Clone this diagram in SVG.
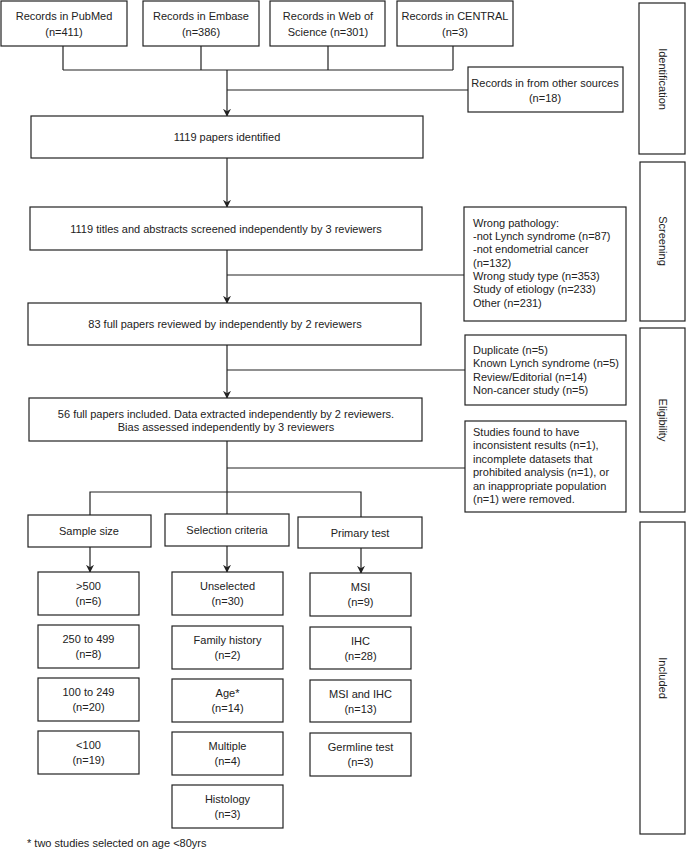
<svg xmlns="http://www.w3.org/2000/svg" width="686" height="850" viewBox="0 0 686 850">
<style>
.b{fill:#fff;stroke:#222;stroke-width:1.2}
.t{font-family:"Liberation Sans",Arial,sans-serif;font-size:11px;fill:#222}
.c{text-anchor:middle}
.l{fill:none;stroke:#222;stroke-width:1.2}
</style>
<defs>
<marker id="ah" viewBox="0 0 10 10" refX="9" refY="5" markerWidth="8" markerHeight="8" markerUnits="userSpaceOnUse" orient="auto">
<path d="M0,0 L10,5 L0,10 L3,5 z" fill="#222"/>
</marker>
</defs>
<rect width="686" height="850" fill="#fff"/>
<g id="connectors">
<path class="l" d="M63,46 V70 M201,46 V70 M328,46 V70 M453,46 V70 M63,70 H453"/>
<path class="l" d="M227,90 H468"/>
<path class="l" d="M227,70 V116" marker-end="url(#ah)"/>
<path class="l" d="M227,158 V207" marker-end="url(#ah)"/>
<path class="l" d="M227,250 V303" marker-end="url(#ah)"/>
<path class="l" d="M227,275 H464"/>
<path class="l" d="M227,345 V398" marker-end="url(#ah)"/>
<path class="l" d="M227,370 H465"/>
<path class="l" d="M227,441 V514"/>
<path class="l" d="M227,468 H465"/>
<path class="l" d="M90,515 V492 H361 V517"/>
<path class="l" d="M90,547 V572" marker-end="url(#ah)"/>
<path class="l" d="M227,546 V572" marker-end="url(#ah)"/>
<path class="l" d="M361,548 V573" marker-end="url(#ah)"/>
</g>
<g id="pubmed"><rect class="b" x="1" y="1" width="126" height="45"/><text class="t c" x="64" y="20">Records in PubMed</text><text class="t c" x="64" y="36">(n=411)</text></g>
<g id="embase"><rect class="b" x="143" y="1" width="116" height="45"/><text class="t c" x="201" y="20">Records in Embase</text><text class="t c" x="201" y="36">(n=386)</text></g>
<g id="wos"><rect class="b" x="270" y="1" width="115" height="45"/><text class="t c" x="328" y="20">Records in Web of</text><text class="t c" x="328" y="36">Science (n=301)</text></g>
<g id="central"><rect class="b" x="397" y="1" width="116" height="45"/><text class="t c" x="455" y="20">Records in CENTRAL</text><text class="t c" x="455" y="36">(n=3)</text></g>
<g id="other"><rect class="b" x="468" y="67" width="155" height="45"/><text class="t c" x="545" y="87">Records in from other sources</text><text class="t c" x="545" y="102">(n=18)</text></g>
<g id="identified"><rect class="b" x="31" y="116" width="392" height="42"/><text class="t c" x="227" y="141">1119 papers identified</text></g>
<g id="screened"><rect class="b" x="30" y="207" width="392" height="43"/><text class="t c" x="226" y="233">1119 titles and abstracts screened independently by 3 reviewers</text></g>
<g id="excl1"><rect class="b" x="464" y="207" width="162" height="114"/>
<text class="t" x="473" y="227">Wrong pathology:</text><text class="t" x="473" y="240">-not Lynch syndrome (n=87)</text><text class="t" x="473" y="253">-not endometrial cancer</text><text class="t" x="473" y="267">(n=132)</text><text class="t" x="473" y="280">Wrong study type (n=353)</text><text class="t" x="473" y="293">Study of etiology (n=233)</text><text class="t" x="473" y="307">Other (n=231)</text></g>
<g id="fullreview"><rect class="b" x="28" y="303" width="393" height="42"/><text class="t c" x="225" y="328">83 full papers reviewed by independently by 2 reviewers</text></g>
<g id="excl2"><rect class="b" x="465" y="335" width="161" height="70"/>
<text class="t" x="473" y="354">Duplicate (n=5)</text><text class="t" x="473" y="367">Known Lynch syndrome (n=5)</text><text class="t" x="473" y="381">Review/Editorial (n=14)</text><text class="t" x="473" y="394">Non-cancer study (n=5)</text></g>
<g id="included"><rect class="b" x="29" y="398" width="393" height="43"/><text class="t c" x="226" y="418">56 full papers included. Data extracted independently by 2 reviewers.</text><text class="t c" x="226" y="431">Bias assessed independently by 3 reviewers</text></g>
<g id="excl3"><rect class="b" x="465" y="421" width="161" height="91"/>
<text class="t" x="473" y="436">Studies found to have</text><text class="t" x="473" y="449">inconsistent results (n=1),</text><text class="t" x="473" y="463">incomplete datasets that</text><text class="t" x="473" y="476">prohibited analysis (n=1), or</text><text class="t" x="473" y="490">an inappropriate population</text><text class="t" x="473" y="503">(n=1) were removed.</text></g>
<g id="stage-identification"><rect class="b" x="639" y="3" width="46" height="151"/><text class="t c" transform="translate(659,79) rotate(90)">Identification</text></g>
<g id="stage-screening"><rect class="b" x="640" y="162" width="45" height="159"/><text class="t c" transform="translate(659,241) rotate(90)">Screening</text></g>
<g id="stage-eligibility"><rect class="b" x="640" y="328" width="45" height="184"/><text class="t c" transform="translate(659,420) rotate(90)">Eligibility</text></g>
<g id="stage-included"><rect class="b" x="640" y="522" width="45" height="312"/><text class="t c" transform="translate(659,678) rotate(90)">Included</text></g>
<g id="samplesize"><rect class="b" x="28" y="515" width="123" height="32"/><text class="t c" x="89" y="535">Sample size</text></g>
<g id="selection"><rect class="b" x="165" y="514" width="124" height="32"/><text class="t c" x="227" y="534">Selection criteria</text></g>
<g id="primarytest"><rect class="b" x="298" y="517" width="124" height="31"/><text class="t c" x="360" y="537">Primary test</text></g>
<g id="ss1"><rect class="b" x="38" y="572" width="101" height="43"/><text class="t c" x="88.5" y="590">&gt;500</text><text class="t c" x="88.5" y="605">(n=6)</text></g>
<g id="ss2"><rect class="b" x="38" y="625" width="101" height="43"/><text class="t c" x="88.5" y="643">250 to 499</text><text class="t c" x="88.5" y="658">(n=8)</text></g>
<g id="ss3"><rect class="b" x="38" y="678" width="101" height="43"/><text class="t c" x="88.5" y="696">100 to 249</text><text class="t c" x="88.5" y="711">(n=20)</text></g>
<g id="ss4"><rect class="b" x="38" y="731" width="101" height="43"/><text class="t c" x="88.5" y="749">&lt;100</text><text class="t c" x="88.5" y="764">(n=19)</text></g>
<g id="sc1"><rect class="b" x="172" y="572" width="111" height="43"/><text class="t c" x="227.5" y="590">Unselected</text><text class="t c" x="227.5" y="605">(n=30)</text></g>
<g id="sc2"><rect class="b" x="172" y="626" width="111" height="43"/><text class="t c" x="227.5" y="644">Family history</text><text class="t c" x="227.5" y="659">(n=2)</text></g>
<g id="sc3"><rect class="b" x="172" y="679" width="111" height="43"/><text class="t c" x="227.5" y="697">Age*</text><text class="t c" x="227.5" y="712">(n=14)</text></g>
<g id="sc4"><rect class="b" x="172" y="732" width="111" height="43"/><text class="t c" x="227.5" y="750">Multiple</text><text class="t c" x="227.5" y="765">(n=4)</text></g>
<g id="sc5"><rect class="b" x="172" y="785" width="111" height="43"/><text class="t c" x="227.5" y="803">Histology</text><text class="t c" x="227.5" y="818">(n=3)</text></g>
<g id="pt1"><rect class="b" x="310" y="573" width="101" height="43"/><text class="t c" x="360.5" y="591">MSI</text><text class="t c" x="360.5" y="606">(n=9)</text></g>
<g id="pt2"><rect class="b" x="310" y="627" width="101" height="42"/><text class="t c" x="360.5" y="645">IHC</text><text class="t c" x="360.5" y="660">(n=28)</text></g>
<g id="pt3"><rect class="b" x="310" y="680" width="101" height="42"/><text class="t c" x="360.5" y="698">MSI and IHC</text><text class="t c" x="360.5" y="713">(n=13)</text></g>
<g id="pt4"><rect class="b" x="310" y="733" width="101" height="43"/><text class="t c" x="360.5" y="751">Germline test</text><text class="t c" x="360.5" y="766">(n=3)</text></g>
<g id="footnote"><text class="t" x="27" y="847">* two studies selected on age &lt;80yrs</text></g>
</svg>
